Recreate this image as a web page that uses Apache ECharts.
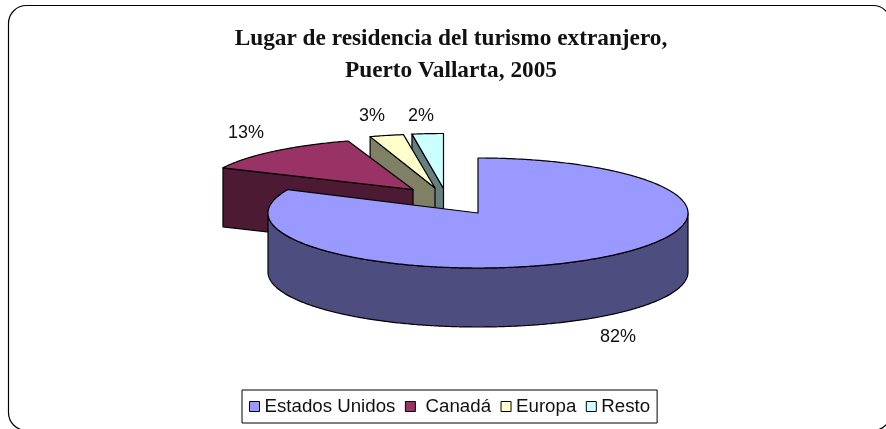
<!DOCTYPE html>
<html><head><meta charset="utf-8">
<style>html,body{margin:0;padding:0;background:#fff}#c{width:886px;height:429px}</style>
<script src="https://cdn.jsdelivr.net/npm/echarts@6/dist/echarts.min.js"></script>
</head><body><div id="c"></div>
<script>
const categories = ['Estados Unidos', 'Canadá', 'Europa', 'Resto'];
const shares = [82.0, 13.0, 2.6, 2.4];
const shareLabels = ['82%', '13%', '3%', '2%'];
const topColors = ['#9999FF', '#993366', '#FFFFCC', '#CCFFFF'];
const sideColors = ['#4D4D80', '#4D1A33', '#808066', '#668080'];
const titleText = 'Lugar de residencia del turismo extranjero,\nPuerto Vallarta, 2005';

// pie layout: apex of each exploded slice, ellipse radii, thickness
const apexes = [[478, 213], [413, 189.5], [435, 188], [443.5, 188.5]];
const radiiY = [55, 51, 54, 55];
const radiusX = 210, depth = 59;
const labelPos = [[618, 337], [246, 133], [372, 116], [421, 116]];
const layers = [40, 30, 20, 10];

const total = shares.reduce((a, b) => a + b, 0);
const starts = shares.map((_, i) => shares.slice(0, i).reduce((a, b) => a + b, 0));

function slice(i) {
  return function (params, api) {
    const a0 = api.value(1) / total * Math.PI * 2;
    const a1 = (api.value(1) + api.value(0)) / total * Math.PI * 2;
    const [cx, cy] = apexes[i], ry = radiiY[i];
    const pt = a => [cx + radiusX * Math.sin(a), cy - ry * Math.cos(a)];
    const arc = (from, to) => {
      const n = Math.max(2, Math.ceil(Math.abs(to - from) / 0.01)), out = [];
      for (let k = 0; k <= n; k++) out.push(pt(from + (to - from) * k / n));
      return out;
    };
    const line = { stroke: '#000', lineWidth: 1.2, lineJoin: 'round' };
    const poly = (points, fill) => ({ type: 'polygon', shape: { points }, style: Object.assign({ fill }, line) });
    const drop = p => [p[0], p[1] + depth];
    const children = [];
    // front rim (lower half of the ellipse, angles PI/2..3PI/2)
    const rs = Math.max(a0, Math.PI / 2), re = Math.min(a1, Math.PI * 1.5);
    if (re > rs) {
      const rim = arc(rs, re);
      children.push(poly(rim.concat(rim.slice().reverse().map(drop)), sideColors[i]));
    }
    // radial cut face of the back slices, which opens towards the viewer
    if (i > 0) {
      const p = pt(a0);
      children.push(poly([p, [cx, cy], drop([cx, cy]), drop(p)], sideColors[i]));
    }
    children.push(poly([[cx, cy]].concat(arc(a0, a1)), topColors[i]));
    return { type: 'group', children };
  };
}

const series = categories.map((name, i) => ({
  type: 'custom', name, coordinateSystem: 'none', z: layers[i],
  silent: true, clip: false,
  itemStyle: { color: topColors[i] },
  renderItem: slice(i),
  data: [[shares[i], starts[i]]]
}));

const chart = echarts.init(document.getElementById('c'), null, { renderer: 'canvas' });
chart.setOption({
  animation: false,
  backgroundColor: '#fff',
  title: {
    text: titleText, left: 446, top: 18, textAlign: 'center',
    textStyle: { fontFamily: 'Liberation Serif', fontWeight: 'bold', fontSize: 23.3, lineHeight: 32, color: '#111' }
  },
  legend: {
    left: 242, top: 390, orient: 'horizontal', padding: [7, 7, 7, 7], itemGap: 9.5,
    itemWidth: 10, itemHeight: 10, backgroundColor: '#fff', borderColor: '#000', borderWidth: 1,
    selectedMode: false, icon: 'rect',
    formatter: n => n === categories[1] ? ' ' + n : n,
    textStyle: { fontFamily: 'Liberation Sans', fontSize: 18.7, color: '#111' },
    data: categories.map((name, i) => ({
      name, icon: 'rect', itemStyle: { color: topColors[i], borderColor: '#000', borderWidth: 1 }
    }))
  },
  graphic: [
    { type: 'rect', z: 0, silent: true, shape: { x: 8.5, y: 5.5, width: 882.5, height: 425, r: 18 },
      style: { fill: 'none', stroke: '#000', lineWidth: 1.2 } }
  ].concat(shareLabels.map((t, i) => ({
    type: 'text', z: 100, silent: true, x: labelPos[i][0], y: labelPos[i][1],
    style: { text: t, fontFamily: 'Liberation Sans', fontSize: 18, fill: '#111', align: 'center', verticalAlign: 'middle' }
  }))),
  series
});
</script></body></html>
